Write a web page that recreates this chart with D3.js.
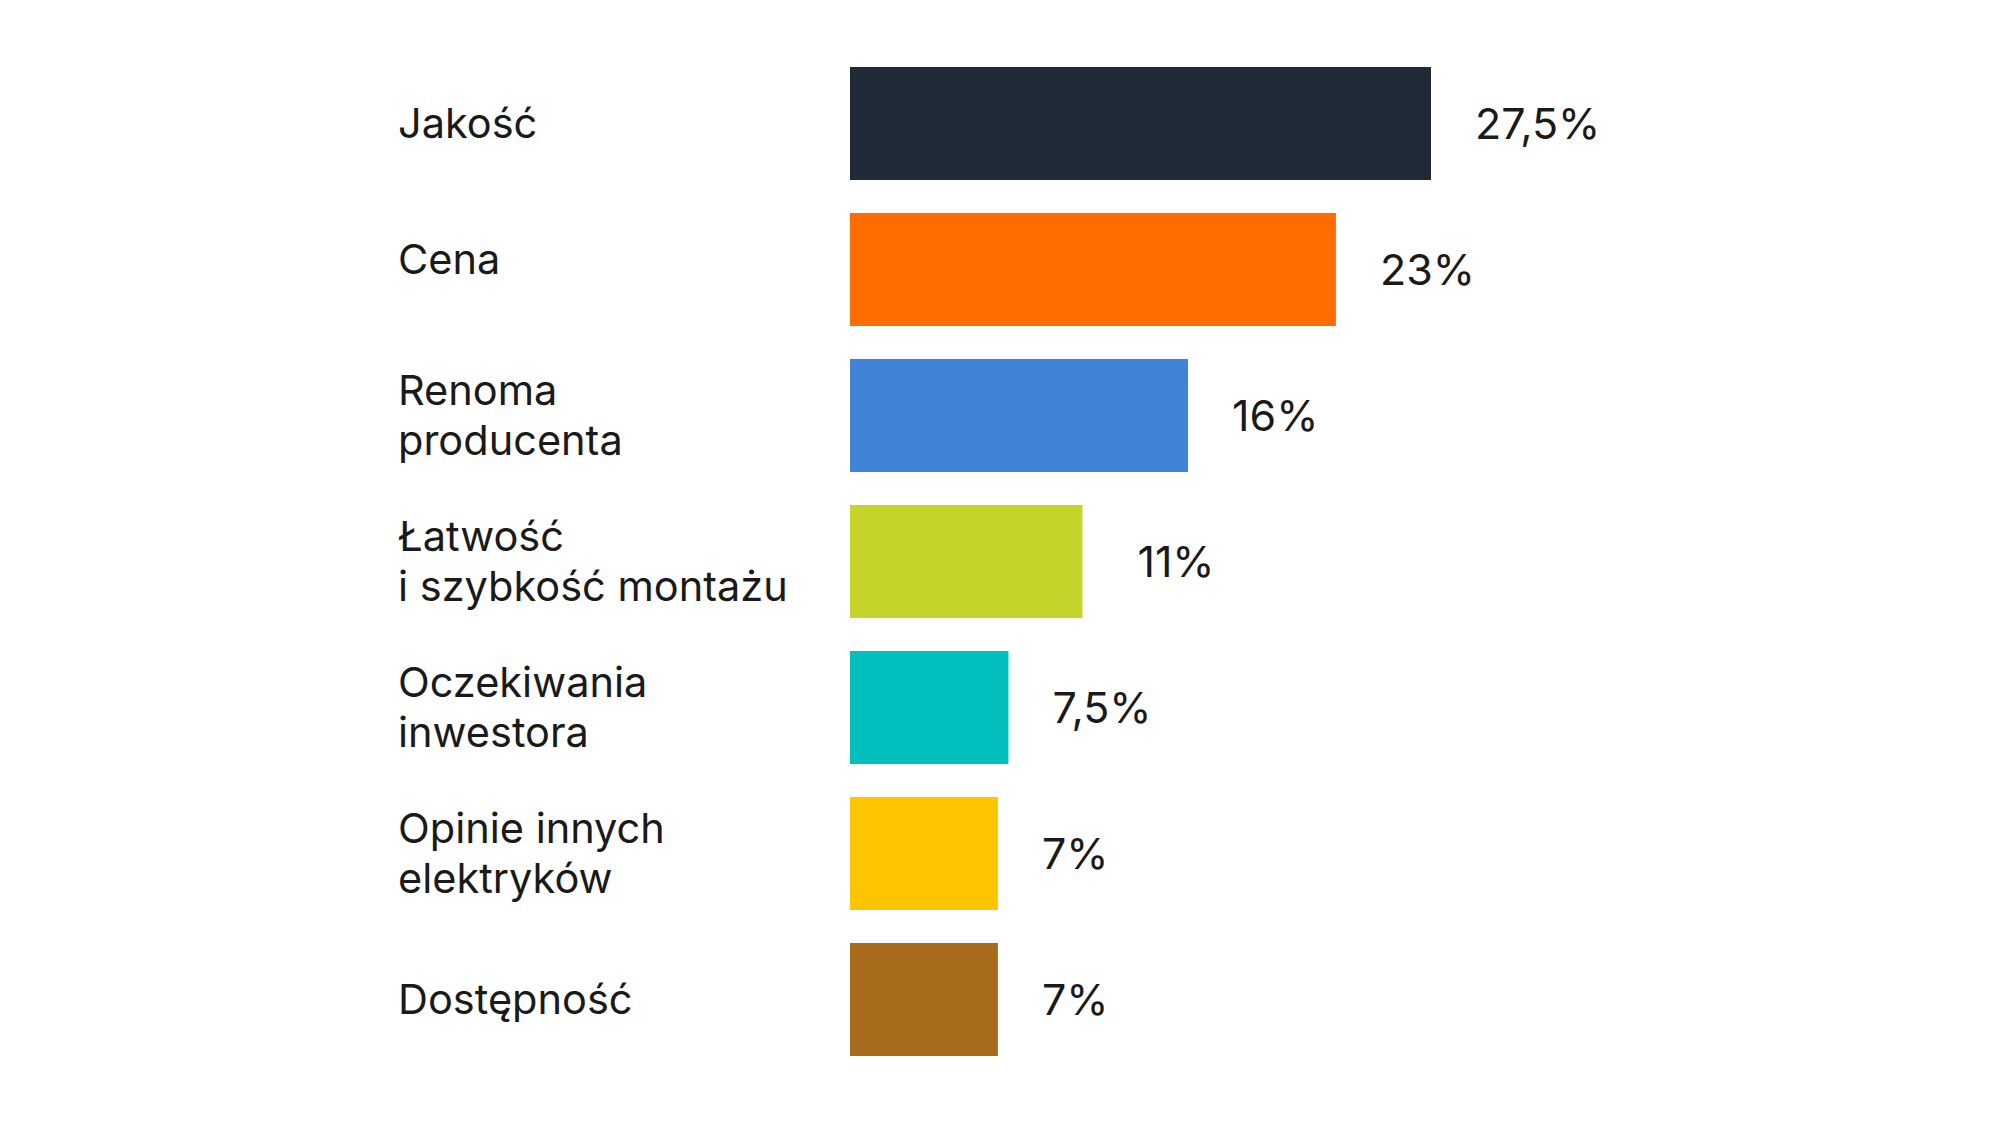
<!DOCTYPE html>
<html>
<head>
<meta charset="utf-8">
<script src="https://cdn.jsdelivr.net/npm/d3@7"></script>
<style>
  html, body { margin: 0; padding: 0; background: #ffffff; }
  svg text { font-family: Inter, "Noto Sans", sans-serif; fill: #1a1a1a; }
</style>
</head>
<body>
<div id="chart"></div>
<script>
// categories (top to bottom), "\n" marks a line break in the label
const categories = [
  "Jakość",
  "Cena",
  "Renoma\nproducenta",
  "Łatwość\ni szybkość montażu",
  "Oczekiwania\ninwestora",
  "Opinie innych\nelektryków",
  "Dostępność"
];
// share of answers, percent
const values = [27.5, 23, 16, 11, 7.5, 7, 7];
const colors = ["#212a38", "#ff6d00", "#3e83d5", "#c6d32b", "#00bfbc", "#fdc400", "#a86b1c"];

const width = 2000;
const height = 1125;

// the original has a couple of hand placed labels
const labelNudge = { Cena: -10 };
const valueNudge = { "Łatwość\ni szybkość montażu": 11 };

const svg = d3
  .select("#chart")
  .append("svg")
  .attr("width", width)
  .attr("height", height);

// x: 27.5% spans about 581px starting at x=850
const x = d3.scaleLinear().domain([0, 27.5]).range([850, 1431]);

const y = d3
  .scaleBand()
  .domain(categories)
  .range([67, 1056])
  .paddingInner(0.226)
  .paddingOuter(0);

// Polish number format: comma as decimal separator
const pl = d3.formatLocale({ decimal: ",", thousands: " ", grouping: [3], currency: ["", " zł"] });
const fmt = (v) => pl.format("~g")(v) + "%";

const rows = categories.map((c, i) => ({ name: c, value: values[i], color: colors[i] }));

// bars
svg
  .selectAll("rect.bar")
  .data(rows)
  .enter()
  .append("rect")
  .attr("class", "bar")
  .attr("x", x(0))
  .attr("y", (d) => y(d.name))
  .attr("width", (d) => x(d.value) - x(0))
  .attr("height", y.bandwidth())
  .attr("fill", (d) => d.color);

// value labels to the right of each bar
svg
  .selectAll("text.value")
  .data(rows)
  .enter()
  .append("text")
  .attr("class", "value")
  .attr("x", (d) => x(d.value) + 44 + (valueNudge[d.name] || 0))
  .attr("y", (d) => y(d.name) + y.bandwidth() / 2)
  .attr("dy", "0.36em")
  .style("font-size", "43px")
  .text((d) => fmt(d.value));

// category labels, vertically centred on the bar
const lineHeight = 50;
const labels = svg
  .selectAll("text.label")
  .data(rows)
  .enter()
  .append("text")
  .attr("class", "label")
  .attr("x", 398)
  .style("font-size", "41.5px");

labels.each(function (d) {
  const lines = d.name.split("\n");
  const mid = y(d.name) + y.bandwidth() / 2 + (labelNudge[d.name] || 0);
  const offset = -((lines.length - 1) * lineHeight) / 2;
  const t = d3.select(this);
  lines.forEach((line, i) => {
    t.append("tspan")
      .attr("x", 398)
      .attr("y", mid + offset + i * lineHeight)
      .attr("dy", "0.36em")
      .text(line);
  });
});
</script>
</body>
</html>
